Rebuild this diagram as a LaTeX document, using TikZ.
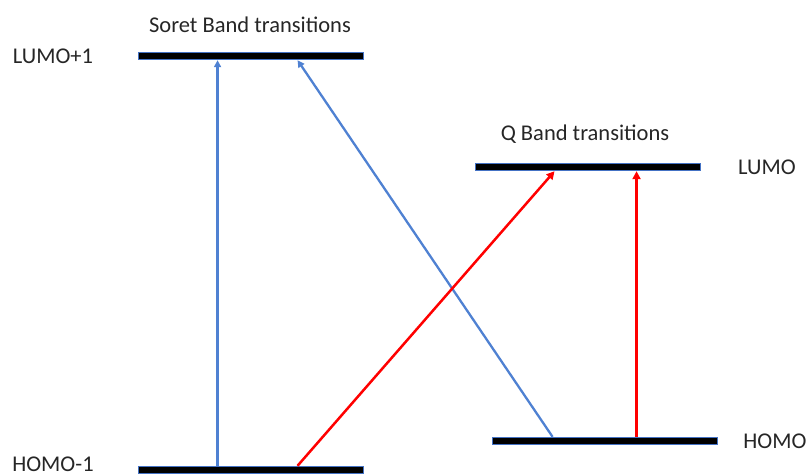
\documentclass[tikz,border=0pt]{standalone}
\usepackage{fontspec}
\setmainfont{Carlito}
\usetikzlibrary{arrows.meta,calc}
\definecolor{levelblue}{RGB}{68,114,196}
\definecolor{sbblue}{RGB}{79,129,210}
\begin{document}
\begin{tikzpicture}[x=1pt,y=-1pt,
  level/.style={rectangle,fill=black,draw=levelblue,line width=0.9pt,
    minimum width=225pt,minimum height=7.5pt,inner sep=0pt},
  lbl/.style={font=\fontsize{22.5}{26}\selectfont,text=black!85,inner sep=0pt},
  soret/.style={draw=sbblue,line width=2.3pt,-{Triangle[width=7pt,length=7pt]}},
  qband/.style={draw=red,line width=2.5pt,-{Triangle[width=8pt,length=8pt]}}]
\useasboundingbox (0,0) rectangle (809,476);
% energy levels
\node[level] (lumoA) at (250.5,56) {};
\node[level] (lumo)  at (587.5,167) {};
\node[level] (homoB) at (250.5,470) {};
\node[level] (homo)  at (604.5,441) {};
% level names and headings
\node[lbl] (tA) at (53,56) {LUMO+1};
\node[lbl] (tB) at (53,464.5) {HOMO-1};
\node[lbl] (tL) at (767,167) {LUMO};
\node[lbl] (tH) at (775,441) {HOMO};
\node[lbl] (soretT) at (250,25) {Soret Band transitions};
\node[lbl] (qT) at (585,134) {Q Band transitions};
% transition end points on the levels
\coordinate (s1a) at ($(homoB.north west)+(80,0)$);
\coordinate (s1b) at ($(lumoA.south west)+(80,0)$);
\coordinate (s2a) at ($(homo.north west)+(61,0)$);
\coordinate (s2b) at ($(lumoA.south west)+(160,0)$);
\coordinate (q1a) at ($(homoB.north west)+(160,0)$);
\coordinate (q1b) at ($(lumo.south west)+(80,0)$);
\coordinate (q2a) at ($(homo.north west)+(145,0)$);
\coordinate (q2b) at ($(lumo.south west)+(162,0)$);
% Soret band transitions
\draw[soret] (s1a) -- (s1b);
\draw[soret] (s2a) -- (s2b);
% Q band transitions
\draw[qband] (q1a) -- (q1b);
\draw[qband] (q2a) -- (q2b);
\end{tikzpicture}
\end{document}
